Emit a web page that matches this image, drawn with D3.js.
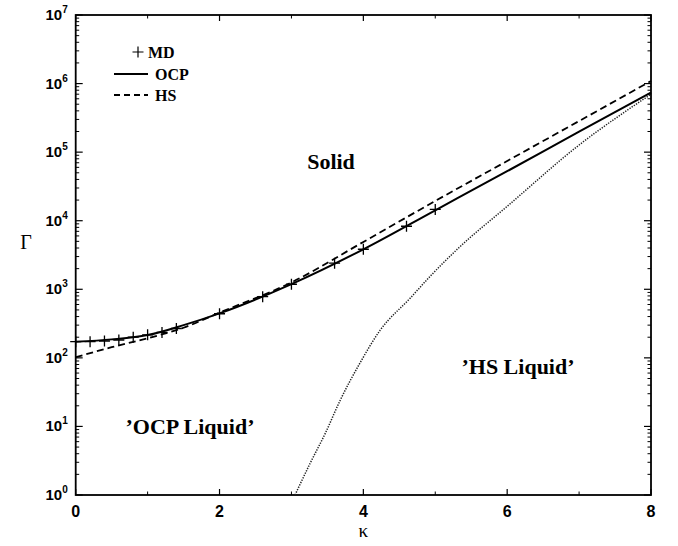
<!DOCTYPE html>
<html><head><meta charset="utf-8">
<script src="https://cdn.jsdelivr.net/npm/d3@7"></script>
<style>body{margin:0;background:#fff}</style>
</head><body>
<script>
// ---- data ----
const mdKappa = [0, 0.2, 0.4, 0.6, 0.8, 1.0, 1.2, 1.4, 2.0, 2.6, 3.0, 3.6, 4.0, 4.6, 5.0];
const mdGamma = [172, 172, 176, 182, 200, 217, 235, 268, 440, 780, 1185, 2400, 3837, 8300, 14600];
const ocpKappa = [0, 0.5, 1, 1.5, 2, 3, 4, 5, 6, 7, 8];
const ocpGamma = [172, 186, 215, 300, 446, 1190, 3830, 14200, 52700, 199000, 740000];
const hsKappa = [0, 0.5, 1, 1.5, 2, 3, 4, 5, 6, 7, 8];
const hsGamma = [102, 143, 193, 275, 457, 1260, 4900, 19400, 74300, 284000, 1090000];
const hslKappa = [3.05, 3.26, 3.47, 3.68, 3.95, 4.23, 4.65, 4.93, 5.32, 6.0, 7.0, 8.0];
const hslGamma = [1.0, 2.9, 7.9, 24.3, 83, 250, 740, 1550, 3960, 16200, 127000, 700000];
const xTicks = [0, 2, 4, 6, 8];
const xMinor = [1, 3, 5, 7];
const yExp = [0, 1, 2, 3, 4, 5, 6, 7];

const W = 678, H = 546;
const L = 75.7, R = 651, T = 15, B = 495;
const svg = d3.select("body").append("svg").attr("width", W).attr("height", H);
const x = d3.scaleLinear().domain([0, 8]).range([L, R]);
const y = d3.scaleLog().domain([1, 1e7]).range([B, T]);

const sans = "Liberation Sans, Arial, sans-serif";
const serif = "Liberation Serif, Times New Roman, serif";

// y ticks
const minorY = [];
for (let e = 0; e < 7; e++) for (let m = 2; m <= 9; m++) minorY.push(m * Math.pow(10, e));
const g = svg.append("g");
minorY.forEach(v => {
  g.append("line").attr("x1", L).attr("x2", L + 3.5).attr("y1", y(v)).attr("y2", y(v)).attr("stroke", "#000").attr("stroke-width", 1);
  g.append("line").attr("x1", R).attr("x2", R - 3.5).attr("y1", y(v)).attr("y2", y(v)).attr("stroke", "#000").attr("stroke-width", 1);
});
yExp.forEach(e => {
  const v = Math.pow(10, e);
  g.append("line").attr("x1", L).attr("x2", L + 7).attr("y1", y(v)).attr("y2", y(v)).attr("stroke", "#000").attr("stroke-width", 1.2);
  g.append("line").attr("x1", R).attr("x2", R - 7).attr("y1", y(v)).attr("y2", y(v)).attr("stroke", "#000").attr("stroke-width", 1.2);
  const t = g.append("text").attr("x", L - 8).attr("y", y(v) + 5).attr("text-anchor", "end")
    .attr("font-family", sans).attr("font-weight", "bold").attr("font-size", 15);
  t.append("tspan").text("10");
  t.append("tspan").attr("dy", -7).attr("font-size", 10).text(e);
});
// x ticks (bottom and top, inward)
xTicks.forEach(v => {
  g.append("line").attr("x1", x(v)).attr("x2", x(v)).attr("y1", B).attr("y2", B - 6).attr("stroke", "#000").attr("stroke-width", 1.2);
  g.append("line").attr("x1", x(v)).attr("x2", x(v)).attr("y1", T).attr("y2", T + 6).attr("stroke", "#000").attr("stroke-width", 1.2);
  g.append("text").attr("x", x(v)).attr("y", B + 22).attr("text-anchor", "middle")
    .attr("font-family", sans).attr("font-weight", "bold").attr("font-size", 16).text(v);
});
xMinor.forEach(v => {
  g.append("line").attr("x1", x(v)).attr("x2", x(v)).attr("y1", B).attr("y2", B - 3.5).attr("stroke", "#000").attr("stroke-width", 1);
  g.append("line").attr("x1", x(v)).attr("x2", x(v)).attr("y1", T).attr("y2", T + 3.5).attr("stroke", "#000").attr("stroke-width", 1);
});

// frame
svg.append("rect").attr("x", L).attr("y", T).attr("width", R - L).attr("height", B - T)
  .attr("fill", "none").attr("stroke", "#000").attr("stroke-width", 1.8);

// axis titles
svg.append("text").attr("x", (L + R) / 2).attr("y", 537).attr("text-anchor", "middle")
  .attr("font-family", serif).attr("font-size", 19).text("κ");
svg.append("text").attr("x", 26).attr("y", 249).attr("text-anchor", "middle")
  .attr("font-family", serif).attr("font-size", 20).text("Γ");

// curves
const line = d3.line().x(d => x(d[0])).y(d => y(d[1])).curve(d3.curveMonotoneX);
const zip = (a, b) => a.map((v, i) => [v, b[i]]);
svg.append("path").attr("d", line(zip(hslKappa, hslGamma))).attr("fill", "none")
  .attr("stroke", "#222").attr("stroke-width", 1.5).attr("stroke-dasharray", "1.3,1.3");
svg.append("path").attr("d", line(zip(hsKappa, hsGamma))).attr("fill", "none")
  .attr("stroke", "#000").attr("stroke-width", 1.8).attr("stroke-dasharray", "7,4");
svg.append("path").attr("d", line(zip(ocpKappa, ocpGamma))).attr("fill", "none")
  .attr("stroke", "#000").attr("stroke-width", 2);

// MD crosses
const cs = 5.5;
zip(mdKappa, mdGamma).forEach(d => {
  const cx = x(d[0]), cy = y(d[1]);
  svg.append("path").attr("d", `M${cx - cs},${cy}H${cx + cs}M${cx},${cy - cs}V${cy + cs}`)
    .attr("stroke", "#000").attr("stroke-width", 1.3).attr("fill", "none");
});

// legend
const lg = svg.append("g");
const lx0 = 114, lx1 = 148, tx = 155;
lg.append("path").attr("d", `M${138 - cs},52H${138 + cs}M138,${52 - cs}V${52 + cs}`).attr("stroke", "#000").attr("stroke-width", 1.2);
lg.append("text").attr("x", tx - 7).attr("y", 58).attr("font-family", serif).attr("font-size", 16).attr("font-weight", "bold").text("MD");
lg.append("line").attr("x1", lx0).attr("x2", lx1).attr("y1", 74).attr("y2", 74).attr("stroke", "#000").attr("stroke-width", 2);
lg.append("text").attr("x", tx).attr("y", 80).attr("font-family", serif).attr("font-size", 16).attr("font-weight", "bold").text("OCP");
lg.append("line").attr("x1", lx0).attr("x2", lx1).attr("y1", 95).attr("y2", 95).attr("stroke", "#000").attr("stroke-width", 1.8).attr("stroke-dasharray", "6,4");
lg.append("text").attr("x", tx).attr("y", 101).attr("font-family", serif).attr("font-size", 16).attr("font-weight", "bold").text("HS");

// region labels
const lab = (t, cx, cy) => svg.append("text").attr("x", cx).attr("y", cy).attr("text-anchor", "middle")
  .attr("font-family", serif).attr("font-weight", "bold").attr("font-size", 22).text(t);
lab("Solid", 331, 169);
lab("’HS Liquid’", 518, 374);
lab("’OCP Liquid’", 190, 434);
</script>
</body></html>
